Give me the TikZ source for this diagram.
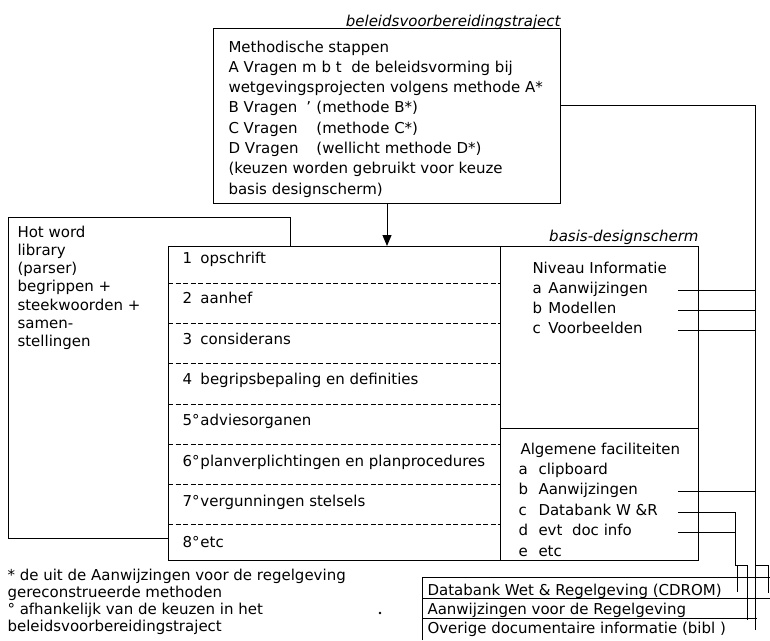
\documentclass[tikz,border=0pt]{standalone}
\usepackage{fontspec}
\setmainfont{DejaVu Sans}
\usetikzlibrary{arrows.meta}

\newcommand{\nummer}[2][18pt]{\makebox[#1][l]{#2}}

\begin{document}
\begin{tikzpicture}[x=1pt, y=-1pt, line width=1pt]
        \tikzstyle{every node}=[inner sep=0pt, font=\fontsize{15}{18}\selectfont]
        \tikzstyle{kader}=[draw, anchor=north west]
        \tikzstyle{regel}=[anchor=base west]
        \tikzstyle{kop}=[anchor=base east, font=\fontsize{15}{18}\selectfont\itshape]
        \tikzstyle{streep}=[line width=0.8pt, dash pattern=on 5pt off 2.5pt]
        \tikzstyle{pijl}=[-{Triangle[length=11pt, width=9pt]}]

        \useasboundingbox (0,0) rectangle (770,640);

        % kaders
        \node[kader, minimum width=282pt, minimum height=321pt] (hotword) at (8,217) {};
        \node[kader, fill=white, minimum width=332pt, minimum height=314pt] (rubriek) at (168,246) {};
        \node[kader, minimum width=198pt, minimum height=182pt] (niveau) at (500,246) {};
        \node[kader, minimum width=198pt, minimum height=132pt] (facil) at (500,428) {};
        \node[kader, minimum width=347pt, minimum height=175pt] (stappen) at (213,28) {};

        \node[kop] (trajectkop) at ([yshift=2pt]stappen.north east) {beleidsvoorbereidingstraject};
        \node[kop] (basiskop) at ([yshift=5pt]niveau.north east) {basis-designscherm};

        % methodische stappen
        \foreach \t [count=\i] in {Methodische stappen,
                A Vragen m b t\ \ de beleidsvorming bij,
                wetgevingsprojecten volgens methode A*,
                {\makebox[88pt][l]{B Vragen\hspace{9pt}'}(methode B*)},
                {\makebox[88pt][l]{C Vragen}(methode C*)},
                {\makebox[88pt][l]{D Vragen}(wellicht methode D*)},
                {(keuzen worden gebruikt voor keuze},
                {basis designscherm)}}
            \node[regel] (stap\i) at (228, {52+20.3*(\i-1)}) {\t};

        % hot word library
        \foreach \t [count=\i] in {Hot word, library, {(parser)}, begrippen +,
                steekwoorden +, samen-, stellingen}
            \node[regel] (hot\i) at (17, {237+18.3*(\i-1)}) {\t};

        % onderdelen
        \foreach \i in {1,...,7}
            \draw[streep] (168, {283+40.3*(\i-1)}) -- (500, {283+40.3*(\i-1)});
        \foreach \t [count=\i] in {\nummer{1}opschrift, \nummer{2}aanhef,
                \nummer{3}considerans, \nummer{4}begripsbepaling en definities,
                \nummer{5°}adviesorganen, \nummer{6°}planverplichtingen en planprocedures,
                \nummer{7°}vergunningen stelsels, \nummer{8°}etc}
            \node[regel] (rij\i) at (182, {263+40.6*(\i-1)}) {\t};

        % basis-designscherm
        \foreach \t [count=\i] in {Niveau Informatie, \nummer[16pt]{a}Aanwijzingen,
                \nummer[16pt]{b}Modellen, \nummer[16pt]{c}Voorbeelden}
            \node[regel] (niv\i) at (532, {273+20.3*(\i-1)}) {\t};
        \node[regel] (fac0) at (520, 454) {Algemene faciliteiten};
        \foreach \t [count=\i] in {\nummer[20pt]{a}clipboard, \nummer[20pt]{b}Aanwijzingen,
                \nummer[20pt]{c}Databank W \&R, \nummer[20pt]{d}evt\ \ doc info,
                \nummer[20pt]{e}etc}
            \node[regel] (fac\i) at (518, {474.4+20.4*(\i-1)}) {\t};

        % voetnoten
        \foreach \t [count=\i] in {* de uit de Aanwijzingen voor de regelgeving,
                gereconstrueerde methoden, ° afhankelijk van de keuzen in het,
                beleidsvoorbereidingstraject}
            \node[regel] (noot\i) at (7, {580+17.3*(\i-1)}) {\t};
        \node[circle, fill, inner sep=0.9pt] (stip) at (380,613) {};

        % bronnen
        \draw (422,640) |- (770,577);
        \draw (422,598) -- (770,598);
        \draw (422,618) -- (757,618);
        \foreach \t [count=\i] in {Databank Wet \& Regelgeving (CDROM),
                Aanwijzingen voor de Regelgeving,
                Overige documentaire informatie (bibl )}
            \node[regel] (bron\i) at (427, {595+19*(\i-1)}) {\t};

        % verbindingen
        \draw[pijl] (stappen.south) -- (stappen.south |- rubriek.north);

        \coordinate (start) at (678,0);
        \coordinate (bus) at (755,105);
        \coordinate (busEind) at (755,630);
        \coordinate (tak) at (735,565);
        \coordinate (naarDB) at (737,592);
        \coordinate (naarOverig) at (747,620);
        \coordinate (naarExtra) at (768,593);

        \draw (stappen.east |- bus) -- (bus) -- (busEind);
        \foreach \n in {niv2, niv3, niv4, fac2} {
            \coordinate (h) at ([yshift=3pt]\n.base);
            \draw (h -| start) -- (h -| bus);
        }
        \coordinate (h) at ([yshift=3pt]fac3.base);
        \draw (h -| start) -| (tak);
        \coordinate (h) at ([yshift=3pt]fac4.base);
        \draw (h -| start) -- (h -| tak);
        \draw (tak) -| (naarOverig);
        \draw (tak -| naarDB) -- (naarDB);
        \draw (bus |- tak) -| (naarExtra);

\end{tikzpicture}
\end{document}
